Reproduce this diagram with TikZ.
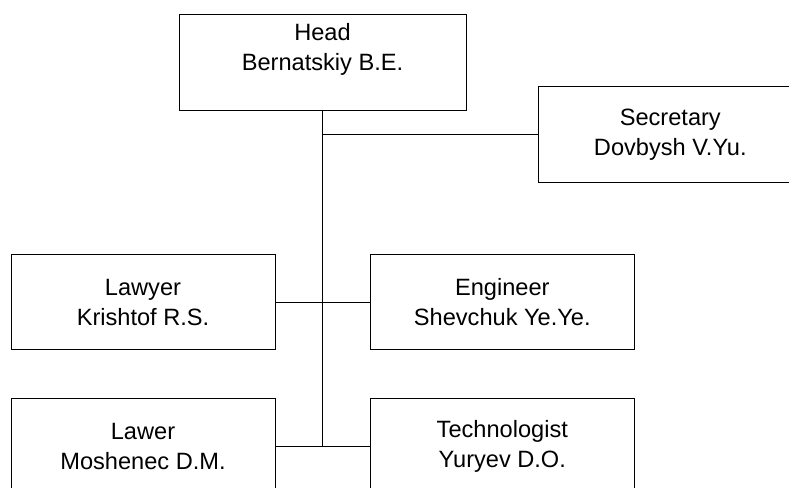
\documentclass[tikz,border=0pt]{standalone}
\usepackage{fontspec}
\setmainfont{Liberation Sans}
\begin{document}
\begin{tikzpicture}[x=1pt,y=-1pt,
  box/.style={draw=black,line width=1pt,minimum width=264pt,minimum height=95.5pt,inner sep=0pt,align=center,font=\fontsize{23.6}{30}\selectfont},
  link/.style={draw=black,line width=1pt},
  trunk/.style={draw=black,line width=1.3pt}]
\useasboundingbox (0,0) rectangle (789,487);
\node[box,minimum width=287pt] (head) at (322.5,62.3) {Head\\Bernatskiy B.E.\\[1pt]\mbox{}};
\node[box] (sec) at (670.3,134.3) {Secretary\\Dovbysh V.Yu.};
\node[box] (lawyer) at (143,302) {Lawyer\\Krishtof R.S.};
\node[box] (eng) at (502.3,302) {Engineer\\Shevchuk Ye.Ye.};
\node[box] (lawer) at (143,446) {Lawer\\Moshenec D.M.};
\node[box] (tech) at (502.3,446) {Technologist\\Yuryev D.O.};
\coordinate (jsec) at (head.south |- sec.west);
\coordinate (jend) at (head.south |- lawer.east);
\draw[trunk] (head.south) -- (jend);
\draw[link] (jsec) -- (sec.west);
\draw[link] (lawyer.east) -- (eng.west);
\draw[link] (lawer.east) -- (tech.west);
\end{tikzpicture}
\end{document}
